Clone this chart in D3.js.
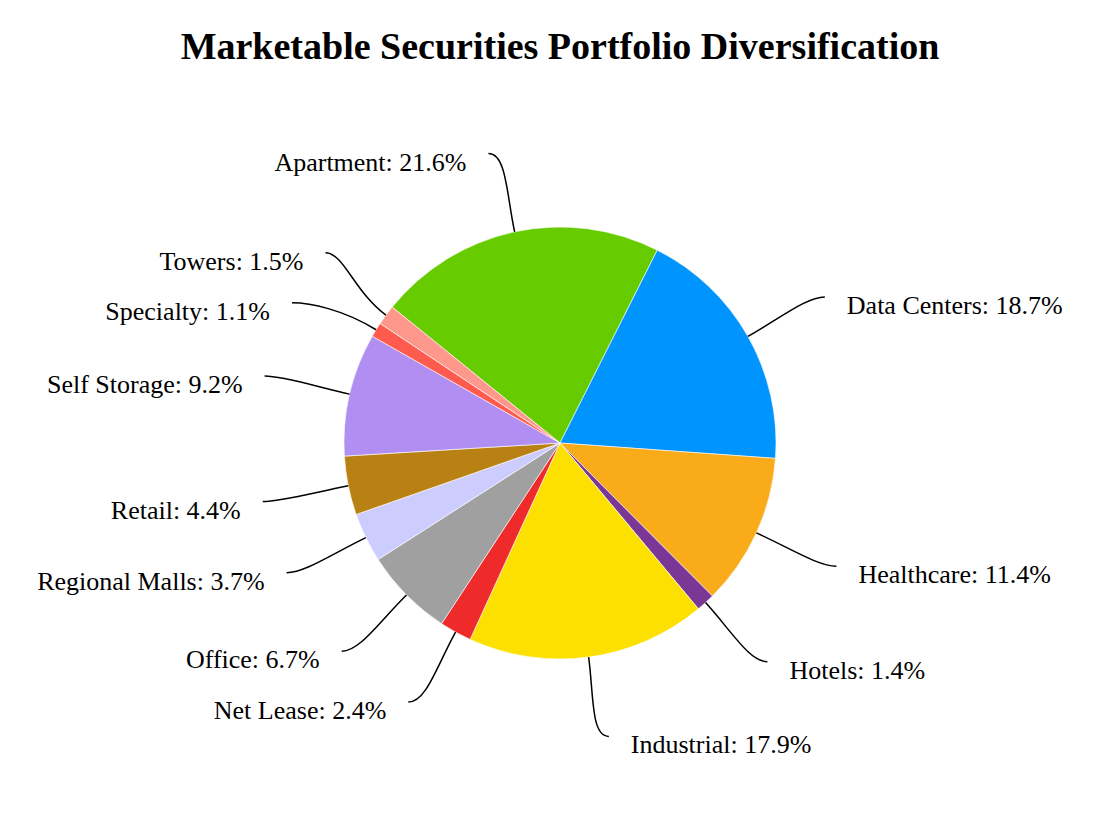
<!DOCTYPE html>
<html>
<head>
<meta charset="utf-8">
<script src="https://cdn.jsdelivr.net/npm/d3@7"></script>
<style>
  html, body { margin: 0; padding: 0; background: #fff; }
  svg { display: block; }
</style>
</head>
<body>
<div id="chart"></div>
<script>
// Sectores y porcentajes (orden del gráfico, sentido horario)
const categories = ["Apartment", "Data Centers", "Healthcare", "Hotels", "Industrial", "Net Lease",
  "Office", "Regional Malls", "Retail", "Self Storage", "Specialty", "Towers"];
const shares = [21.6, 18.7, 11.4, 1.4, 17.9, 2.4, 6.7, 3.7, 4.4, 9.2, 1.1, 1.5];
const sliceColors = ["#66cc00", "#0094ff", "#faab1a", "#7b3796", "#fbe000", "#ee2a2a",
  "#a0a0a0", "#ccccff", "#b98113", "#b18ff2", "#ff5a4e", "#ff988c"];

const W = 1120, H = 814;
const cx = 560, cy = 443, R = 216;
const labelRx = 293, labelRy = 296, labelPad = 10; // fin de las líneas guía
const minGap = 50;    // separación vertical mínima entre etiquetas

const svg = d3.select("#chart").append("svg")
  .attr("width", W).attr("height", H)
  .attr("viewBox", `0 0 ${W} ${H}`);

svg.append("text")
  .attr("x", cx).attr("y", 59)
  .attr("text-anchor", "middle")
  .attr("font-family", "'Liberation Serif', 'Times New Roman', serif")
  .attr("font-weight", "bold")
  .attr("font-size", 38)
  .text("Marketable Securities Portfolio Diversification");

const data = categories.map((c, i) => ({ name: c, value: shares[i], color: sliceColors[i] }));

const start = -51 * Math.PI / 180;
const pie = d3.pie().sort(null).value(d => d.value)
  .startAngle(start).endAngle(start + 2 * Math.PI);
const arcs = pie(data);
const arc = d3.arc().innerRadius(0).outerRadius(R);

const g = svg.append("g").attr("transform", `translate(${cx},${cy})`);

g.selectAll("path.slice")
  .data(arcs)
  .enter().append("path")
  .attr("class", "slice")
  .attr("d", arc)
  .attr("fill", d => d.data.color)
  .attr("stroke", "#fff")
  .attr("stroke-width", 0.6);

// Posición de las etiquetas: ángulo medio, luego separar las que chocan
const labels = arcs.map(d => {
  const a = (d.startAngle + d.endAngle) / 2;
  return {
    d, a,
    side: Math.sin(a) >= 0 ? 1 : -1,
    y: -labelRy * Math.cos(a)
  };
});

[1, -1].forEach(side => {
  const group = labels.filter(l => l.side === side).sort((p, q) => p.y - q.y);
  for (let iter = 0; iter < 50; iter++) {
    let moved = false;
    for (let i = 1; i < group.length; i++) {
      const gap = group[i].y - group[i - 1].y;
      if (gap < minGap - 0.01) {
        const shift = (minGap - gap) / 2;
        group[i - 1].y -= shift;
        group[i].y += shift;
        moved = true;
      }
    }
    if (!moved) break;
  }
});

labels.forEach(l => {
  const c = Math.max(-1, Math.min(1, -l.y / labelRy));
  const s = Math.sqrt(1 - c * c);
  l.x = l.side * (labelPad + labelRx * s);
});

const link = l => {
  const a = l.a;
  const p0 = [R * Math.sin(a), -R * Math.cos(a)];
  const p1 = [R * 1.18 * Math.sin(a), -R * 1.18 * Math.cos(a)];
  const p2 = [l.x - l.side * 18, l.y];
  const p3 = [l.x, l.y];
  const path = d3.path();
  path.moveTo(p0[0], p0[1]);
  path.bezierCurveTo(p1[0], p1[1], p2[0], p2[1], p3[0], p3[1]);
  return path.toString();
};

g.selectAll("path.leader")
  .data(labels)
  .enter().append("path")
  .attr("class", "leader")
  .attr("d", link)
  .attr("fill", "none")
  .attr("stroke", "#000")
  .attr("stroke-width", 1.5);

g.selectAll("text.label")
  .data(labels)
  .enter().append("text")
  .attr("class", "label")
  .attr("x", l => l.x + l.side * 22)
  .attr("y", l => l.y + 17)
  .attr("text-anchor", l => l.side > 0 ? "start" : "end")
  .attr("font-family", "'Liberation Serif', 'Times New Roman', serif")
  .attr("font-size", 26)
  .attr("fill", "#000")
  .text(l => `${l.d.data.name}: ${l.d.data.value.toFixed(1)}%`);
</script>
</body>
</html>
